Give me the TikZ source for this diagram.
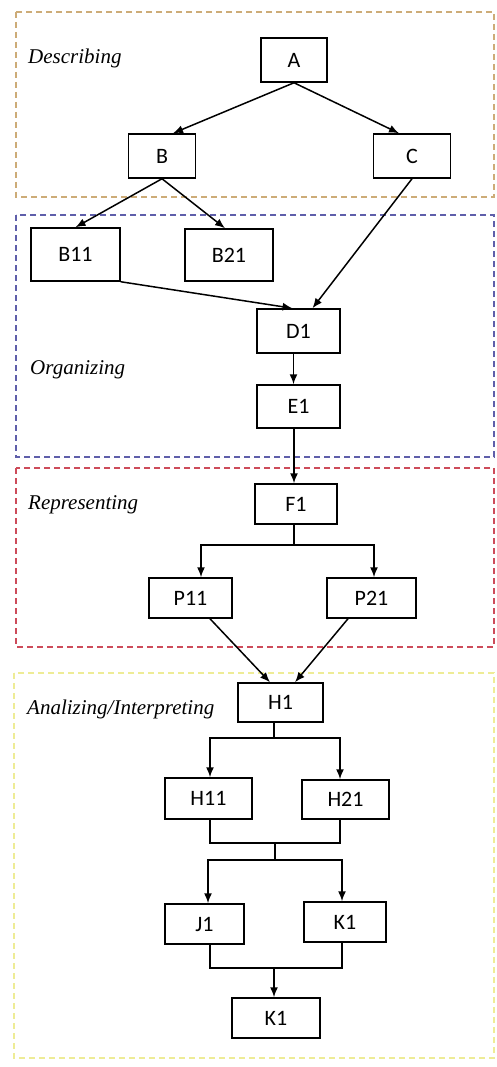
\documentclass[tikz,border=0pt]{standalone}
\usepackage{fontspec}
\setmainfont{Liberation Serif}
\newfontfamily\boxfont{Carlito}
\usetikzlibrary{arrows.meta}
\definecolor{descC}{RGB}{205,172,120}
\definecolor{orgC}{RGB}{95,95,170}
\definecolor{repC}{RGB}{205,75,90}
\definecolor{anaC}{RGB}{238,236,150}
\tikzset{
  stagebox/.style={draw, line width=1.2pt, dash pattern=on 6pt off 4pt},
  stagelabel/.style={anchor=west, inner sep=0pt, font=\fontsize{21}{25}\selectfont\itshape},
  item/.style={draw, line width=1.5pt, fill=white, inner sep=0pt,
    font=\boxfont\fontsize{22}{26}\selectfont},
  arr/.style={line width=1.5pt, -{Latex[length=10pt,width=8pt]}},
  ln/.style={line width=1.5pt}
}
\begin{document}
\begin{tikzpicture}[x=1pt,y=-1pt]
\useasboundingbox (0,0) rectangle (496,1067);
% stage frames
\draw[stagebox, descC] (16,12) rectangle (494,197);
\draw[stagebox, orgC] (16,215) rectangle (494,457);
\draw[stagebox, repC] (16,468) rectangle (494,647);
\draw[stagebox, anaC] (14,673) rectangle (494,1058);
% stage names
\node[stagelabel] (lDesc) at (28,58) {Describing};
\node[stagelabel] (lOrg) at (30,370) {Organizing};
\node[stagelabel] (lRep) at (28,505) {Representing};
\node[stagelabel] (lAna) at (27,709) {Analizing/Interpreting};
% items
\node[item, minimum width=66pt, minimum height=44pt] (A) at (294,60) {A};
\node[item, minimum width=67pt, minimum height=44pt] (B) at (162,156) {B};
\node[item, minimum width=77pt, minimum height=44pt] (C) at (412,156) {C};
\node[item, minimum width=89pt, minimum height=53pt] (B11) at (75.5,254.5) {B11};
\node[item, minimum width=88pt, minimum height=52pt] (B21) at (229,255) {B21};
\node[item, minimum width=83pt, minimum height=44pt] (D1) at (298.5,331) {D1};
\node[item, minimum width=83pt, minimum height=43pt] (E1) at (298.5,406.5) {E1};
\node[item, minimum width=82pt, minimum height=40pt] (F1) at (296,504) {F1};
\node[item, minimum width=83pt, minimum height=40pt] (P11) at (190.5,598) {P11};
\node[item, minimum width=89pt, minimum height=40pt] (P21) at (371.5,598) {P21};
\node[item, minimum width=85pt, minimum height=39pt] (H1) at (280.5,702.5) {H1};
\node[item, minimum width=87pt, minimum height=41pt] (H11) at (208.5,798.5) {H11};
\node[item, minimum width=87pt, minimum height=39pt] (H21) at (345.5,799.5) {H21};
\node[item, minimum width=79pt, minimum height=40pt] (J1) at (204.5,924) {J1};
\node[item, minimum width=82pt, minimum height=40pt] (K1) at (345,922) {K1};
\node[item, minimum width=88pt, minimum height=40pt] (K2) at (276,1018) {K1};
% junction points
\coordinate (fF) at (294,545);
\coordinate (fH) at (274,738);
\coordinate (mH) at (275,843);
\coordinate (fJ) at (275,860);
\coordinate (mJ) at (274,968);
% connectors
\draw[arr] (A.south) -- ([xshift=11pt]B.north);
\draw[arr] (A.south) -- ([xshift=-13pt]C.north);
\draw[arr] (B.south) -- (B11.north);
\draw[arr] (B.south) -- ([xshift=-4pt]B21.north);
\draw[arr] (B11.south east) -- ([xshift=-6pt]D1.north);
\draw[arr] (C.south) -- ([xshift=14pt]D1.north);
\draw[arr] ([xshift=-5pt]D1.south) -- ([xshift=-5pt]E1.north);
\draw[arr] ([xshift=-4.5pt]E1.south) -- ([xshift=-2pt]F1.north);
\draw[ln] ([xshift=-2pt]F1.south) -- (fF);
\draw[arr] (fF) -| ([xshift=10.5pt]P11.north);
\draw[arr] (fF) -| ([xshift=2.5pt]P21.north);
\draw[arr] ([xshift=19.5pt]P11.south) -- ([xshift=-10.5pt]H1.north);
\draw[arr] ([xshift=-23.5pt]P21.south) -- ([xshift=14.5pt]H1.north);
\draw[ln] (H1.south -| fH) -- (fH);
\draw[arr] (fH) -| ([xshift=1.5pt]H11.north);
\draw[arr] (fH) -| ([xshift=-5.5pt]H21.north);
\draw[ln] ([xshift=1.5pt]H11.south) |- (mH) -| ([xshift=-5.5pt]H21.south);
\draw[ln] (mH) -- (fJ);
\draw[arr] (fJ) -| ([xshift=3.5pt]J1.north);
\draw[arr] (fJ) -| ([xshift=-3pt]K1.north);
\draw[ln] ([xshift=5.5pt]J1.south) |- (mJ) -| ([xshift=-3pt]K1.south);
\draw[arr] (mJ) -- ([xshift=-2pt]K2.north);
\end{tikzpicture}
\end{document}
